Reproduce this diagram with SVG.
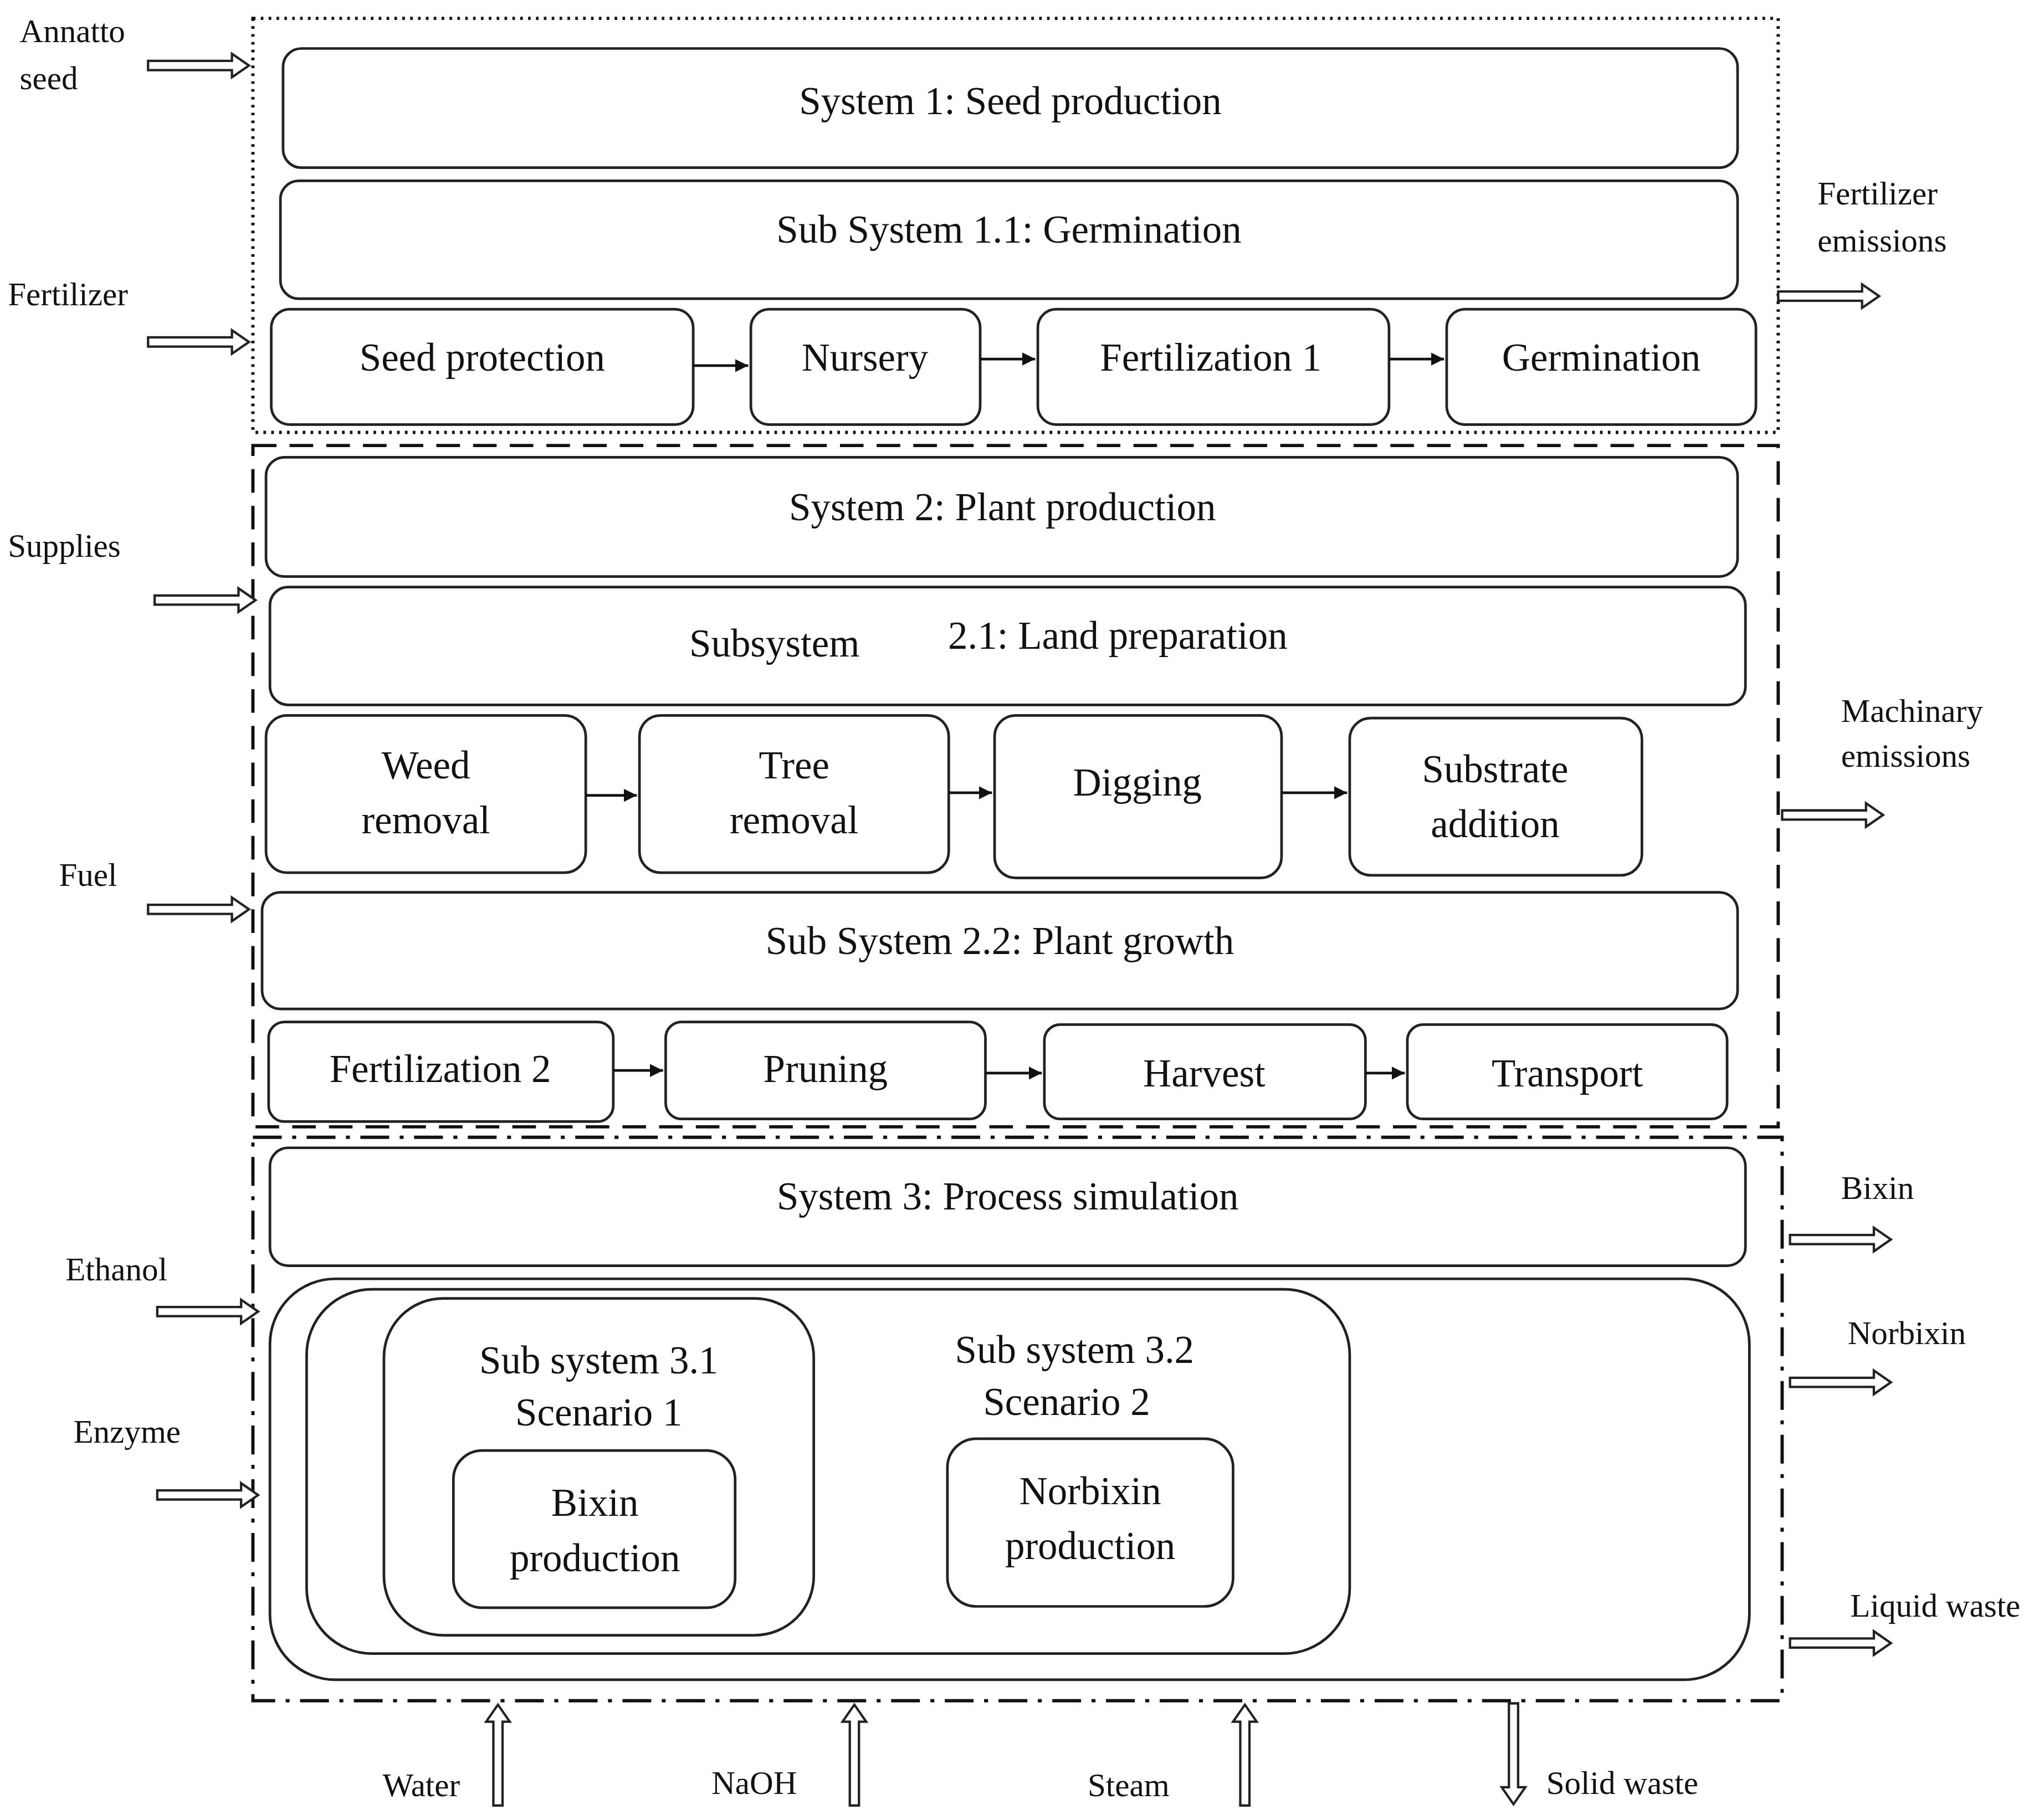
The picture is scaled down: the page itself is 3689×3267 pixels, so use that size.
<svg xmlns="http://www.w3.org/2000/svg" xmlns:xlink="http://www.w3.org/1999/xlink" width="3689" height="3267" viewBox="0 0 3689 3267">
<style>
.b{fill:#fff;stroke:#222;stroke-width:2}
.t{font-family:"Liberation Serif",serif;font-size:30px;fill:#111;text-anchor:middle}
.s{font-family:"Liberation Serif",serif;font-size:25px;fill:#111}
.c{stroke:#111;stroke-width:2;fill:none}
.h{fill:#fff;stroke:#222;stroke-width:1.8}
</style>
<defs>
<marker id="a" viewBox="0 0 10 10" refX="10" refY="5" markerWidth="5" markerHeight="5" orient="auto"><path d="M0,0L10,5L0,10z" fill="#111"/></marker>
<path id="ha" class="h" d="M0,-3.5H64V-9L77,0L64,9V3.5H0Z"/>
</defs>
<rect width="3689" height="3267" fill="#fff"/>
<g transform="scale(2.365)">
<g id="frames" fill="none" stroke="#111" stroke-width="2.5">
<rect x="193" y="14" width="1164" height="316" stroke-dasharray="2,4"/>
<rect x="193" y="340" width="1164" height="520" stroke-dasharray="18,10"/>
<rect x="193" y="868" width="1167" height="430" stroke-dasharray="22,8,3,8"/>
</g>
<g id="sys1"><rect class="b" x="216" y="37" width="1110" height="91" rx="14"/><text class="t" x="771" y="87">System 1: Seed production</text></g>
<g id="sub11"><rect class="b" x="214" y="138" width="1112" height="90" rx="14"/><text class="t" x="770" y="185">Sub System 1.1: Germination</text></g>
<g id="seedprot"><rect class="b" x="207" y="236" width="322" height="88" rx="14"/><text class="t" x="368" y="283">Seed protection</text></g>
<g id="nursery"><rect class="b" x="573" y="236" width="175" height="88" rx="14"/><text class="t" x="660" y="283">Nursery</text></g>
<g id="fert1"><rect class="b" x="792" y="236" width="268" height="88" rx="14"/><text class="t" x="924" y="283">Fertilization 1</text></g>
<g id="germ"><rect class="b" x="1104" y="236" width="236" height="88" rx="14"/><text class="t" x="1222" y="283">Germination</text></g>
<g id="sys2"><rect class="b" x="203" y="349" width="1123" height="91" rx="14"/><text class="t" x="765" y="397">System 2: Plant production</text></g>
<g id="sub21"><rect class="b" x="206" y="448" width="1126" height="90" rx="14"/><text class="t" x="591" y="501">Subsystem</text><text class="t" x="853" y="495">2.1: Land preparation</text></g>
<g id="weed"><rect class="b" x="203" y="546" width="244" height="120" rx="16"/><text class="t" x="325" y="594">Weed</text><text class="t" x="325" y="636">removal</text></g>
<g id="tree"><rect class="b" x="488" y="546" width="236" height="120" rx="16"/><text class="t" x="606" y="594">Tree</text><text class="t" x="606" y="636">removal</text></g>
<g id="dig"><rect class="b" x="759" y="546" width="219" height="124" rx="16"/><text class="t" x="868" y="607">Digging</text></g>
<g id="subst"><rect class="b" x="1030" y="548" width="223" height="120" rx="16"/><text class="t" x="1141" y="597">Substrate</text><text class="t" x="1141" y="639">addition</text></g>
<g id="sub22"><rect class="b" x="200" y="681" width="1126" height="89" rx="14"/><text class="t" x="763" y="728">Sub System 2.2: Plant growth</text></g>
<g id="fert2"><rect class="b" x="205" y="780" width="263" height="76" rx="12"/><text class="t" x="336" y="826">Fertilization 2</text></g>
<g id="prun"><rect class="b" x="508" y="780" width="244" height="74" rx="12"/><text class="t" x="630" y="826">Pruning</text></g>
<g id="harv"><rect class="b" x="797" y="782" width="245" height="72" rx="12"/><text class="t" x="919" y="829">Harvest</text></g>
<g id="trans"><rect class="b" x="1074" y="782" width="244" height="72" rx="12"/><text class="t" x="1196" y="829">Transport</text></g>
<g id="sys3"><rect class="b" x="206" y="876" width="1126" height="90" rx="14"/><text class="t" x="769" y="923">System 3: Process simulation</text></g>
<g id="outer3"><rect class="b" x="206" y="976" width="1129" height="306" rx="50"/></g>
<g id="inner3"><rect class="b" x="234" y="984" width="796" height="278" rx="50"/><text class="t" x="820" y="1040">Sub system 3.2</text><text class="t" x="814" y="1080">Scenario 2</text></g>
<g id="sub31"><rect class="b" x="293" y="991" width="328" height="257" rx="45"/><text class="t" x="457" y="1048">Sub system 3.1</text><text class="t" x="457" y="1088">Scenario 1</text></g>
<g id="bixin"><rect class="b" x="346" y="1107" width="215" height="120" rx="22"/><text class="t" x="454" y="1157">Bixin</text><text class="t" x="454" y="1199">production</text></g>
<g id="norbixin"><rect class="b" x="723" y="1098" width="218" height="128" rx="22"/><text class="t" x="832" y="1148">Norbixin</text><text class="t" x="832" y="1190">production</text></g>
<g id="connectors">
<line class="c" x1="529" y1="279" x2="571" y2="279" marker-end="url(#a)"/>
<line class="c" x1="748" y1="274" x2="790" y2="274" marker-end="url(#a)"/>
<line class="c" x1="1060" y1="274" x2="1102" y2="274" marker-end="url(#a)"/>
<line class="c" x1="447" y1="607" x2="486" y2="607" marker-end="url(#a)"/>
<line class="c" x1="724" y1="605" x2="757" y2="605" marker-end="url(#a)"/>
<line class="c" x1="978" y1="605" x2="1028" y2="605" marker-end="url(#a)"/>
<line class="c" x1="468" y1="817" x2="506" y2="817" marker-end="url(#a)"/>
<line class="c" x1="752" y1="819" x2="795" y2="819" marker-end="url(#a)"/>
<line class="c" x1="1042" y1="819" x2="1072" y2="819" marker-end="url(#a)"/>
<use xlink:href="#ha" transform="translate(113,50)"/>
<use xlink:href="#ha" transform="translate(113,261)"/>
<use xlink:href="#ha" transform="translate(118,458)"/>
<use xlink:href="#ha" transform="translate(113,694)"/>
<use xlink:href="#ha" transform="translate(120,1001)"/>
<use xlink:href="#ha" transform="translate(120,1141)"/>
<use xlink:href="#ha" transform="translate(1357,226)"/>
<use xlink:href="#ha" transform="translate(1360,622)"/>
<use xlink:href="#ha" transform="translate(1366,946)"/>
<use xlink:href="#ha" transform="translate(1366,1055)"/>
<use xlink:href="#ha" transform="translate(1366,1254)"/>
<use xlink:href="#ha" transform="translate(380,1378) rotate(-90)"/>
<use xlink:href="#ha" transform="translate(652,1378) rotate(-90)"/>
<use xlink:href="#ha" transform="translate(950,1378) rotate(-90)"/>
<use xlink:href="#ha" transform="translate(1155,1300) rotate(90)"/>
</g>
<g id="labels">
<text class="s" x="15" y="32">Annatto</text><text class="s" x="15" y="68">seed</text>
<text class="s" x="6" y="233">Fertilizer</text>
<text class="s" x="6" y="425">Supplies</text>
<text class="s" x="45" y="676">Fuel</text>
<text class="s" x="50" y="977">Ethanol</text>
<text class="s" x="56" y="1101">Enzyme</text>
<text class="s" x="1387" y="156">Fertilizer</text><text class="s" x="1387" y="192">emissions</text>
<text class="s" x="1405" y="551">Machinary</text><text class="s" x="1405" y="585">emissions</text>
<text class="s" x="1405" y="915">Bixin</text>
<text class="s" x="1410" y="1026">Norbixin</text>
<text class="s" x="1412" y="1234">Liquid waste</text>
<text class="s" x="292" y="1371">Water</text>
<text class="s" x="543" y="1369">NaOH</text>
<text class="s" x="830" y="1371">Steam</text>
<text class="s" x="1180" y="1369">Solid waste</text>
</g>
</g>
</svg>
